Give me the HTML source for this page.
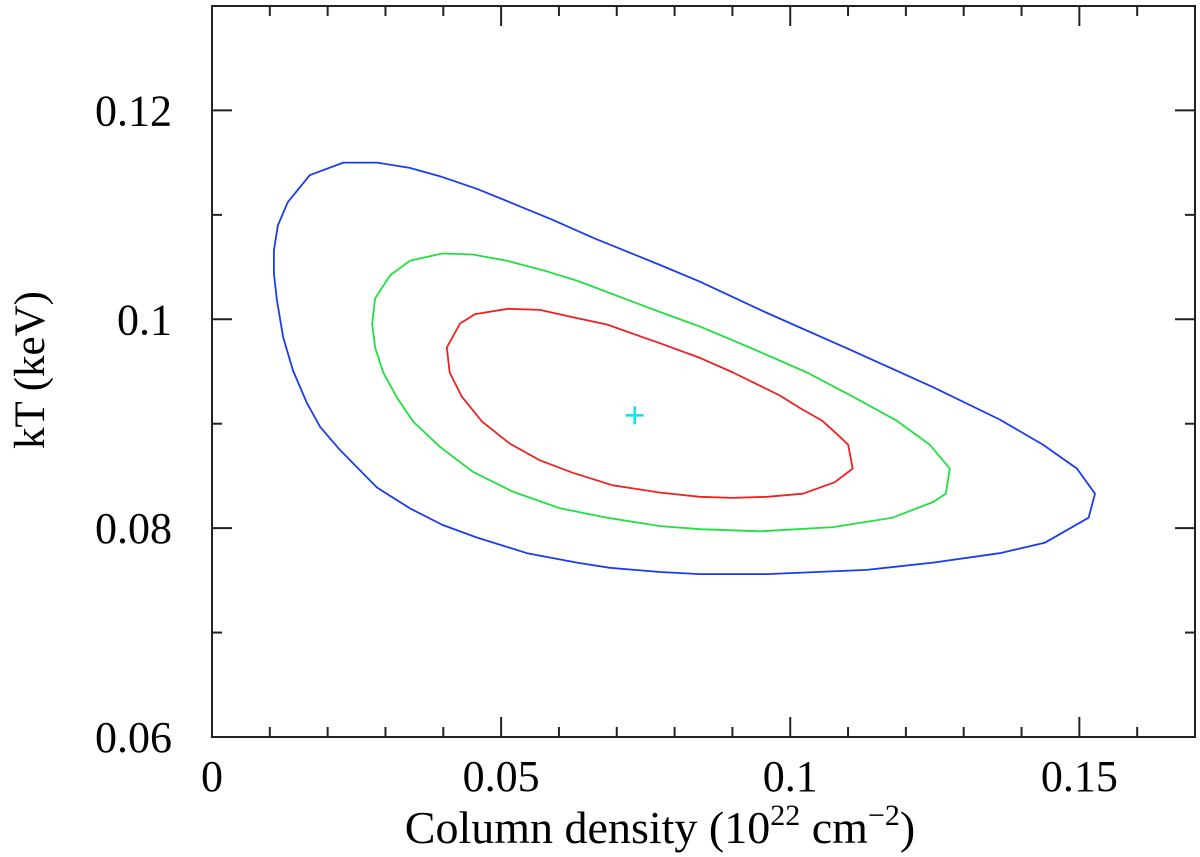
<!DOCTYPE html>
<html><head><meta charset="utf-8"><style>
html,body{margin:0;padding:0;background:#fff;}
svg{display:block;font-family:"Liberation Serif",serif;}
</style></head><body>
<svg id="chart" width="1200" height="857" viewBox="0 0 1200 857" xmlns="http://www.w3.org/2000/svg">
<g id="axes"></g>
<g id="marks"></g>
<text x="660" y="843" font-size="46" text-anchor="middle">Column density (10<tspan font-size="30" dy="-18">22</tspan><tspan dy="18"> cm</tspan><tspan font-size="30" dy="-18">−2</tspan><tspan dy="18">)</tspan></text>
<text transform="translate(44,370) rotate(-90)" font-size="43" text-anchor="middle">kT (keV)</text>
</svg>
<script>
const xTicks=[0,0.05,0.1,0.15];
const xTickLabels=["0","0.05","0.1","0.15"];
const yTicks=[0.06,0.08,0.1,0.12];
const yTickLabels=["0.06","0.08","0.1","0.12"];
const blueX=[0.0227,0.0285,0.0342,0.0394,0.0458,0.0520,0.0590,0.0659,0.0775,0.0844,0.0960,0.1103,0.1247,0.1362,0.1437,0.1496,0.1527,0.1516,0.1440,0.1362,0.1247,0.1132,0.0960,0.0844,0.0775,0.0688,0.0631,0.0545,0.0458,0.0399,0.0342,0.0285,0.0221,0.0187,0.0164,0.0140,0.0123,0.0112,0.0107,0.0107,0.0114,0.0131,0.0169];
const blueY=[0.1150,0.1150,0.1145,0.1137,0.1125,0.1111,0.1095,0.1078,0.1052,0.1036,0.1006,0.0971,0.0935,0.0904,0.0880,0.0857,0.0833,0.0810,0.0786,0.0776,0.0767,0.0760,0.0756,0.0756,0.0758,0.0762,0.0767,0.0776,0.0791,0.0803,0.0819,0.0839,0.0875,0.0897,0.0920,0.0951,0.0983,0.1019,0.1044,0.1066,0.1090,0.1112,0.1138];
const greenX=[0.0398,0.0451,0.0510,0.0572,0.0631,0.0775,0.0844,0.0930,0.1029,0.1108,0.1184,0.1241,0.1276,0.1269,0.1247,0.1177,0.1074,0.0948,0.0844,0.0775,0.0683,0.0602,0.0520,0.0451,0.0394,0.0348,0.0320,0.0296,0.0282,0.0277,0.0282,0.0308,0.0342];
const greenY=[0.1063,0.1062,0.1056,0.1047,0.1037,0.1007,0.0993,0.0973,0.0949,0.0926,0.0903,0.0880,0.0857,0.0833,0.0825,0.0810,0.0801,0.0797,0.0799,0.0802,0.0810,0.0819,0.0835,0.0854,0.0878,0.0902,0.0925,0.0949,0.0973,0.0996,0.1020,0.1042,0.1056];
const redX=[0.0512,0.0567,0.0624,0.0683,0.0775,0.0844,0.0901,0.0982,0.1017,0.1055,0.1081,0.1100,0.1108,0.1077,0.1022,0.0960,0.0901,0.0844,0.0775,0.0693,0.0624,0.0567,0.0515,0.0467,0.0432,0.0411,0.0406,0.0429,0.0455];
const redY=[0.1010,0.1009,0.1002,0.0995,0.0977,0.0963,0.0949,0.0927,0.0915,0.0903,0.0890,0.0880,0.0857,0.0844,0.0833,0.0830,0.0829,0.0830,0.0834,0.0841,0.0853,0.0865,0.0881,0.0902,0.0926,0.0949,0.0973,0.0996,0.1005];
const bestX=[0.0731];
const bestY=[0.0908];

const L=212,R=1195,T=6,B=737,XMIN=0,XMAX=0.17,YMIN=0.06,YMAX=0.13;
const sx=v=>L+(v-XMIN)/(XMAX-XMIN)*(R-L);
const sy=v=>B-(v-YMIN)/(YMAX-YMIN)*(B-T);
const NS="http://www.w3.org/2000/svg";
const axes=document.getElementById('axes'), marks=document.getElementById('marks');
function mk(tag,attrs,parent){const e=document.createElementNS(NS,tag);for(const k in attrs)e.setAttribute(k,attrs[k]);parent.appendChild(e);return e;}

const frame=mk('rect',{x:L,y:T,width:R-L,height:B-T,fill:'none',stroke:'#222','stroke-width':2},axes);



for(let i=0;i<=17;i++){
  const v=i*0.01, x=sx(v), major=(i%5===0), len=major?20:10;
  const t1=mk('line',{x1:x,y1:B,x2:x,y2:B-len,stroke:'#222','stroke-width':2},axes);
  
  
  const t2=mk('line',{x1:x,y1:T,x2:x,y2:T+len,stroke:'#222','stroke-width':2},axes);
  
  
}
xTicks.forEach((v,i)=>{
  const t=mk('text',{x:sx(v),y:791,'font-size':44,'text-anchor':'middle'},axes);
  t.textContent=xTickLabels[i];
  
  
});
for(let i=6;i<=13;i++){
  const v=i*0.01, y=sy(v), major=(i%2===0), len=major?20:10;
  const t1=mk('line',{x1:L,y1:y,x2:L+len,y2:y,stroke:'#222','stroke-width':2},axes);
  
  
  const t2=mk('line',{x1:R,y1:y,x2:R-len,y2:y,stroke:'#222','stroke-width':2},axes);
  
  
}
yTicks.forEach((v,i)=>{
  const t=mk('text',{x:172,y:sy(v)+15,'font-size':44,'text-anchor':'end'},axes);
  t.textContent=yTickLabels[i];
  
  
});

function contour(xs,ys,color,name){
  const pts=xs.map((x,i)=>sx(x).toFixed(1)+','+sy(ys[i]).toFixed(1)).join(' ');
  const p=mk('polygon',{points:pts,fill:'none',stroke:color,'stroke-width':1.8,'stroke-linejoin':'round'},marks);
  
  
}
contour(blueX,blueY,'#1a3cf0','contour-99pct');
contour(greenX,greenY,'#20e040','contour-90pct');
contour(redX,redY,'#f02020','contour-68pct');

const bx=sx(bestX[0]), by=sy(bestY[0]);
const cross=mk('path',{d:`M${bx-9},${by}H${bx+9}M${bx},${by-9}V${by+9}`,stroke:'#00e5f0','stroke-width':2.5},marks);


</script>
</body></html>
